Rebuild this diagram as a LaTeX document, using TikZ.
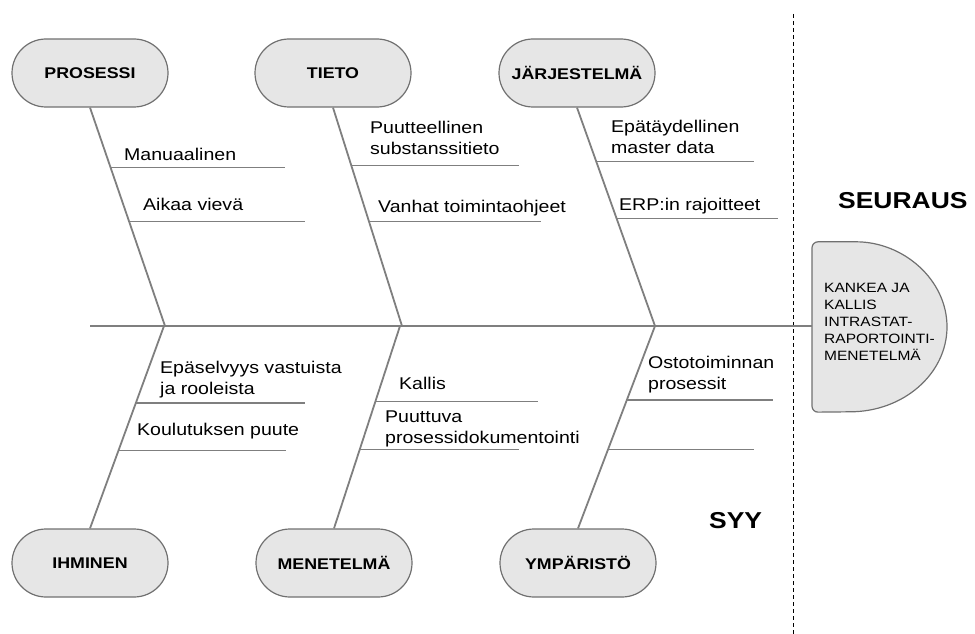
\documentclass[tikz,border=0pt]{standalone}
\usepackage{fontspec}
\setmainfont[FakeStretch=1.15]{Liberation Sans}
\usetikzlibrary{shapes.misc,calc}

\definecolor{bonegray}{HTML}{7F7F7F}
\definecolor{edgegray}{HTML}{707070}
\definecolor{pillfill}{HTML}{E6E6E6}

\begin{document}
\begin{tikzpicture}[x=1pt,y=-1pt,
  bone/.style={draw=bonegray, line width=1.8pt},
  twig/.style={draw=bonegray, line width=1.6pt},
  cat/.style={rounded rectangle, draw=edgegray, line width=1.2pt, fill=pillfill,
    minimum width=156pt, minimum height=68pt, inner sep=0pt,
    font=\fontsize{15.5}{18}\selectfont\bfseries},
  cause/.style={anchor=base west, inner sep=0pt, align=left,
    font=\fontsize{17}{20.5}\selectfont},
  effshape/.style={draw=edgegray, line width=1.2pt, fill=pillfill},
  efftext/.style={anchor=base west, inner sep=0pt, align=left,
    font=\fontsize{13.5}{16.8}\selectfont},
  heading/.style={anchor=base west, inner sep=0pt,
    font=\fontsize{23}{26}\selectfont\bfseries},
  divider/.style={draw=black, line width=0.8pt, dash pattern=on 4pt off 3pt}
]
\useasboundingbox (0,0) rectangle (975,634);

% category nodes
\node[cat] (pros) at (90,73) {PROSESSI};
\node[cat] (tieto) at (333,73) {TIETO};
\node[cat] (jarj) at (577,73) {JÄRJESTELMÄ};
\node[cat] (ihm) at (90,563) {IHMINEN};
\node[cat] (men) at (334,563) {MENETELMÄ};
\node[cat] (ymp) at (578,563) {YMPÄRISTÖ};

% effect head
\node[minimum width=137pt, minimum height=170pt, inner sep=0pt, anchor=west] (eff) at (812,327) {};
\draw[effshape] ($(eff.north west)+(38,0)$) arc[start angle=90, end angle=-90, x radius=97pt, y radius=85pt]
  [rounded corners=6pt] -- (eff.south west) -- (eff.north west) -- cycle;
% base anchor of a multi-line node sits on its last line
\node[efftext] (efft) at (824,360) {KANKEA JA\\KALLIS\\INTRASTAT-\\RAPORTOINTI-\\MENETELMÄ};

% divider
\coordinate (dtop) at (793,14);
\coordinate (dbot) at (793,634);
\draw[divider] (dtop) -- (dbot);

% spine
\coordinate (sp) at (90,326);
\draw[bone] (sp) -- (sp -| eff.west);

% junctions on the spine
\coordinate (jp) at (165,326);
\coordinate (jt) at (402,326);
\coordinate (jj) at (655,326);
\coordinate (ji) at (164,326);
\coordinate (jm) at (400,326);
\coordinate (jy) at (655,326);

% main bones
\draw[bone] (pros.south) -- (jp);
\draw[bone] (tieto.south) -- (jt);
\draw[bone] (jarj.south) -- (jj);
\draw[bone] (ihm.north) -- (ji);
\draw[bone] (men.north) -- (jm);
\draw[bone] (ymp.north) -- (jy);

% sub-bone start points
\coordinate (p1) at ($(pros.south)!0.274!(jp)$);
\coordinate (p2) at ($(pros.south)!0.521!(jp)$);
\coordinate (t1) at ($(tieto.south)!0.265!(jt)$);
\coordinate (t2) at ($(tieto.south)!0.521!(jt)$);
\coordinate (j1) at ($(jarj.south)!0.247!(jj)$);
\coordinate (j2) at ($(jarj.south)!0.507!(jj)$);
\coordinate (i1) at ($(ihm.north)!0.621!(ji)$);
\coordinate (i2) at ($(ihm.north)!0.384!(ji)$);
\coordinate (m1) at ($(men.north)!0.626!(jm)$);
\coordinate (m2) at ($(men.north)!0.389!(jm)$);
\coordinate (y1) at ($(ymp.north)!0.635!(jy)$);
\coordinate (y2) at ($(ymp.north)!0.389!(jy)$);

% sub-bone end points
\coordinate (p1e) at (285,0);
\coordinate (p2e) at (305,0);
\coordinate (t1e) at (519,0);
\coordinate (t2e) at (541,0);
\coordinate (j1e) at (754,0);
\coordinate (j2e) at (778,0);
\coordinate (i1e) at (305,0);
\coordinate (i2e) at (286,0);
\coordinate (m1e) at (538,0);
\coordinate (m2e) at (519,0);
\coordinate (y1e) at (773,0);
\coordinate (y2e) at (754,0);

\foreach \s in {p1,p2,t1,t2,j1,j2,i1,i2,m1,m2,y1,y2}
  \draw[twig] (\s) -- (\s -| \s e);

% cause labels (base = baseline of the last line)
\node[cause] (l1) at (124,160) {Manuaalinen};
\node[cause] (l2) at (143,210) {Aikaa vievä};
\node[cause] (l3) at (370,154) {Puutteellinen\\substanssitieto};
\node[cause] (l4) at (378,212) {Vanhat toimintaohjeet};
\node[cause] (l5) at (611,153) {Epätäydellinen\\master data};
\node[cause] (l6) at (619,210) {ERP:in rajoitteet};
\node[cause] (l7) at (160,394) {Epäselvyys vastuista\\ja rooleista};
\node[cause] (l8) at (137,435) {Koulutuksen puute};
\node[cause] (l9) at (399,389) {Kallis};
\node[cause] (l10) at (385,443) {Puuttuva\\prosessidokumentointi};
\node[cause] (l11) at (648,389) {Ostotoiminnan\\prosessit};

% headings
\node[heading] (seur) at (838,208) {SEURAUS};
\node[heading] (syy) at (709,528) {SYY};
\end{tikzpicture}
\end{document}
